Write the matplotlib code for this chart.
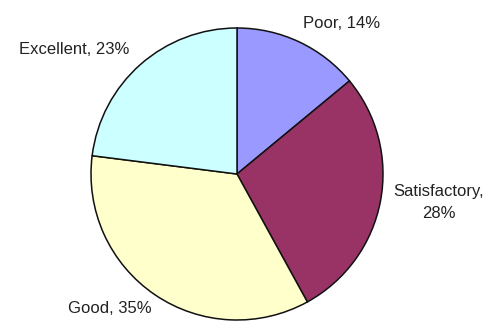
import matplotlib
matplotlib.use("Agg")
import matplotlib.pyplot as plt

# rating shares
categories = ["Poor", "Satisfactory", "Good", "Excellent"]
shares = [14, 28, 35, 23]
colors = ["#9999FF", "#993366", "#FFFFCC", "#CCFFFF"]

plt.rcParams["font.family"] = ["Liberation Sans", "DejaVu Sans"]

fig = plt.figure(figsize=(4.91, 3.25), dpi=100)
ax = fig.add_axes([0, 0, 1, 1])

ax.pie(shares, colors=colors, startangle=90, counterclock=False,
       center=(237, 151), radius=146, frame=True,
       wedgeprops=dict(edgecolor="#111111", linewidth=1.1))
ax.set_xlim(0, 491)
ax.set_ylim(0, 325)
ax.set_aspect("equal")
ax.axis("off")

# label baselines (x, y) in figure pixels, one entry per text line
label_pos = {
    "Poor": [(342, 297)],
    "Satisfactory": [(439, 129), (439, 107)],
    "Good": [(110, 12)],
    "Excellent": [(74, 271)],
}
for name, val in zip(categories, shares):
    pos = label_pos[name]
    if len(pos) == 2:
        lines = [f"{name},", f"{val}%"]
    else:
        lines = [f"{name}, {val}%"]
    for line, (x, y) in zip(lines, pos):
        ax.text(x, y, line, ha="center", va="baseline", fontsize=12,
                color="#222222")

fig.savefig("out.png", dpi=100)
